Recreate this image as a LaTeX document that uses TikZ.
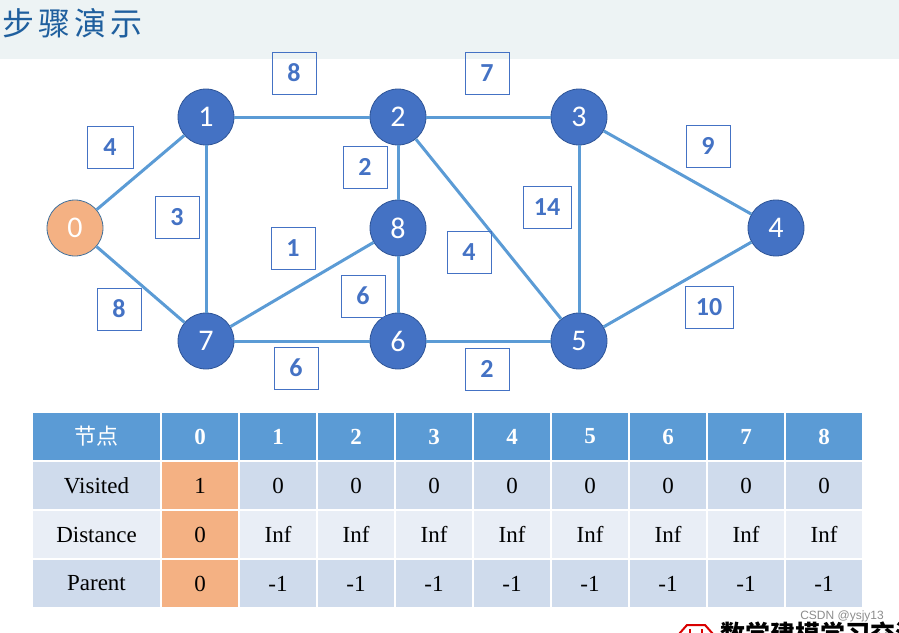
\documentclass[tikz,border=0pt]{standalone}
\usepackage{fontspec}
\setmainfont{Liberation Serif}
\newfontfamily\calfont{Carlito}
\newfontfamily\cjkfont{Noto Sans CJK SC}
\newfontfamily\wmfont{Liberation Sans}
\definecolor{titlebg}{HTML}{EDF3F4}
\definecolor{titlefg}{HTML}{1F5F9E}
\definecolor{edgec}{HTML}{5B9BD5}
\definecolor{nodeblue}{HTML}{4472C4}
\definecolor{nodeborder}{HTML}{2F5597}
\definecolor{nodeorange}{HTML}{F4B183}
\definecolor{orangeborder}{HTML}{41719C}
\definecolor{labelc}{HTML}{4472C4}
\definecolor{headc}{HTML}{5B9BD5}
\definecolor{rowdark}{HTML}{CFDBEC}
\definecolor{rowlight}{HTML}{E9EEF6}
\definecolor{cellorange}{HTML}{F4B183}
\tikzset{
  vtx/.style={circle, minimum size=56pt, inner sep=0pt, fill=nodeblue, draw=nodeborder, line width=0.8pt, text=white, font=\calfont\fontsize{30}{30}\selectfont},
  vtxorange/.style={vtx, fill=nodeorange, draw=orangeborder},
  edge/.style={draw=edgec, line width=3pt},
  wlabel/.style={draw=labelc, line width=0.9pt, minimum width=44pt, minimum height=42pt, inner sep=0pt, text=labelc, font=\calfont\bfseries\fontsize{26}{26}\selectfont},
  cellbase/.style={rectangle, inner sep=0pt, minimum height=47pt, font=\fontsize{23}{23}\selectfont, text=black},
  headcell/.style={cellbase, fill=headc, text=white, font=\bfseries\fontsize{23}{23}\selectfont},
  rdark/.style={cellbase, fill=rowdark},
  rlight/.style={cellbase, fill=rowlight},
  rorange/.style={cellbase, fill=cellorange},
}
\begin{document}
\begin{tikzpicture}[x=1pt,y=-1pt]
\useasboundingbox (0,0) rectangle (899,632);
\clip (0,0) rectangle (899,632);
\fill[titlebg] (0,0) rectangle (899,59);
\node[anchor=west, inner sep=0pt, text=titlefg, font=\cjkfont\fontsize{32}{32}\selectfont] (title) at (2,23) {步\hspace{4pt}骤\hspace{4pt}演\hspace{4pt}示};

% vertices
\node[vtxorange] (n0) at (75,228) {0};
\node[vtx] (n1) at (206,117) {1};
\node[vtx] (n2) at (398,117) {2};
\node[vtx] (n3) at (579,117) {3};
\node[vtx] (n4) at (776,228) {4};
\node[vtx] (n8) at (398,228) {8};
\node[vtx] (n7) at (206,341) {7};
\node[vtx] (n6) at (398,341) {6};
\node[vtx] (n5) at (579,341) {5};

% edges
\draw[edge] (n0) -- (n1);
\draw[edge] (n0) -- (n7);
\draw[edge] (n1) -- (n2);
\draw[edge] (n1) -- (n7);
\draw[edge] (n2) -- (n3);
\draw[edge] (n2) -- (n8);
\draw[edge] (n2) -- (n5);
\draw[edge] (n3) -- (n5);
\draw[edge] (n3) -- (n4);
\draw[edge] (n4) -- (n5);
\draw[edge] (n7) -- (n8);
\draw[edge] (n7) -- (n6);
\draw[edge] (n8) -- (n6);
\draw[edge] (n6) -- (n5);

% weight labels
\node[wlabel] (w12) at (294,73) {8};
\node[wlabel] (w23) at (487,73) {7};
\node[wlabel, minimum width=46pt] (w01) at (110,147) {4};
\node[wlabel] (w17) at (177,217) {3};
\node[wlabel] (w28) at (365,167) {2};
\node[wlabel] (w78) at (293,248) {1};
\node[wlabel, minimum width=48pt] (w35) at (547,207) {14};
\node[wlabel] (w25) at (469,252) {4};
\node[wlabel] (w34) at (708,146) {9};
\node[wlabel] (w07) at (119,309) {8};
\node[wlabel] (w86) at (363,296) {6};
\node[wlabel, minimum width=48pt] (w45) at (709,307) {10};
\node[wlabel] (w76) at (296,368) {6};
\node[wlabel] (w65) at (487,369) {2};

% table
\node[headcell, minimum width=127pt, font=\cjkfont\fontsize{22}{22}\selectfont] (h0) at (96.5,436.5) {节点};
\node[rdark, minimum width=127pt] (v0) at (96.5,485.5) {Visited};
\node[rlight, minimum width=127pt] (d0) at (96.5,534.5) {Distance};
\node[rdark, minimum width=127pt] (p0) at (96.5,583.5) {Parent};
\foreach \i in {1,...,9}{
  \pgfmathsetmacro{\cx}{200+78*(\i-1)}
  \pgfmathtruncatemacro{\lab}{\i-1}
  \node[headcell, minimum width=76pt] (h\i) at (\cx,436.5) {\lab};
}
\node[rorange, minimum width=76pt] (v1) at (200,485.5) {1};
\node[rorange, minimum width=76pt] (d1) at (200,534.5) {0};
\node[rorange, minimum width=76pt] (p1) at (200,583.5) {0};
\foreach \i in {2,...,9}{
  \pgfmathsetmacro{\cx}{200+78*(\i-1)}
  \node[rdark, minimum width=76pt] (v\i) at (\cx,485.5) {0};
  \node[rlight, minimum width=76pt] (d\i) at (\cx,534.5) {Inf};
  \node[rdark, minimum width=76pt] (p\i) at (\cx,583.5) {-1};
}

% watermark and logo
\node[anchor=east, inner sep=0pt, text=black!45, font=\wmfont\fontsize{12}{12}\selectfont] (wm) at (884,616) {CSDN @ysjy13};
\draw[red!85!black, line width=2pt] (679,634) -- (687,625) -- (705,625) -- (713,634);
\draw[red!85!black, line width=2.5pt] (690,629) -- (690,634) (702,629) -- (702,634);
\node[anchor=north west, inner sep=0pt, text=black, font=\cjkfont\bfseries\fontsize{25}{25}\selectfont] (logo) at (720,622) {数学建模学习交流};
\end{tikzpicture}
\end{document}
